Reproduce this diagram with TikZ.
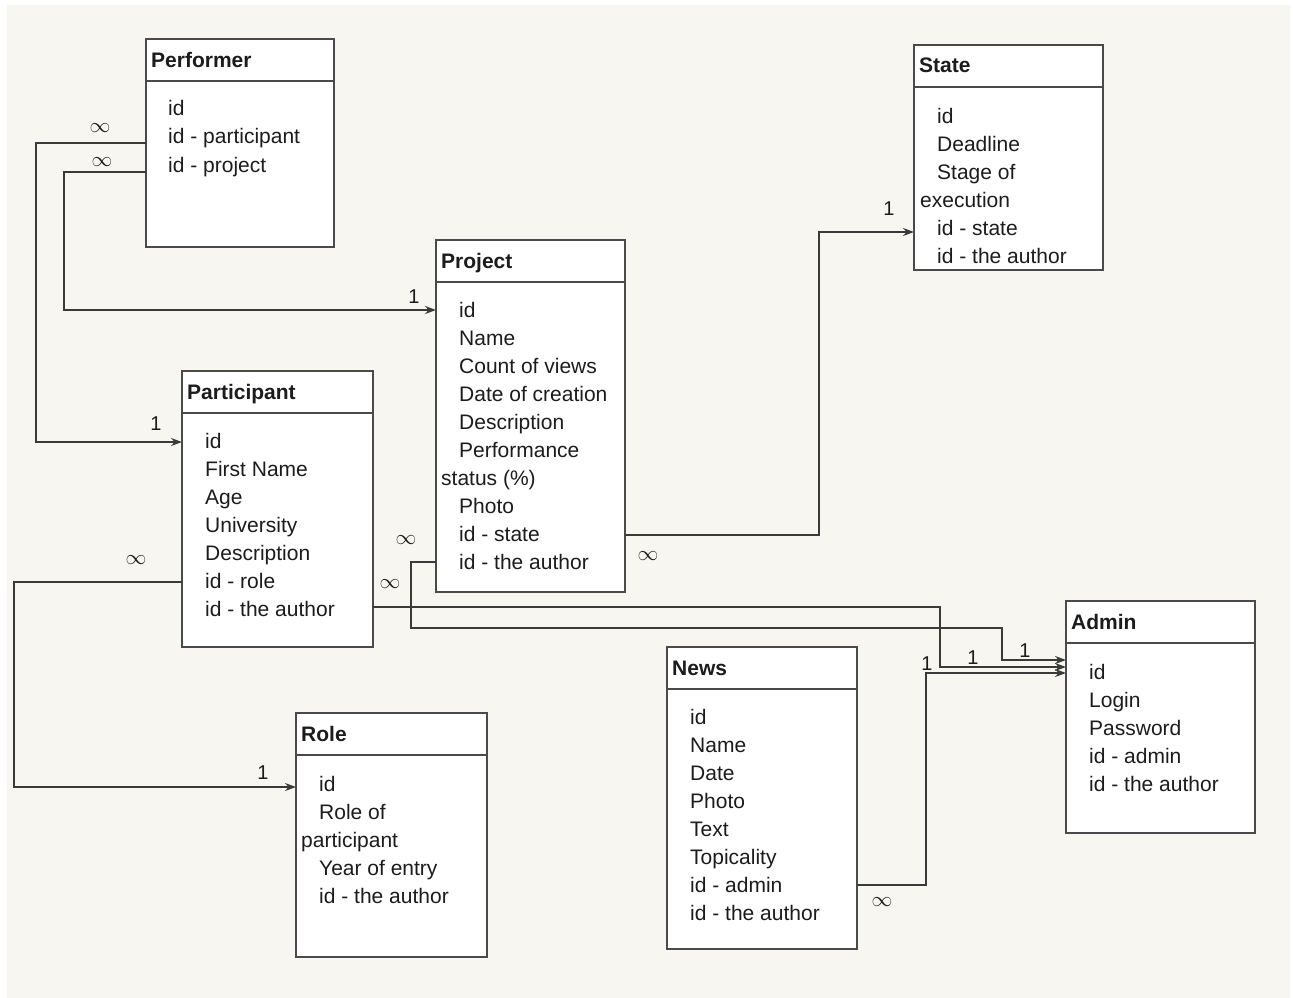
\documentclass[tikz,border=0pt]{standalone}
\usepackage{fontspec}
\setmainfont{Liberation Sans}
\usetikzlibrary{arrows.meta,calc}

\definecolor{paper}{HTML}{F8F6F0}
\definecolor{ink}{HTML}{1C1C1C}
\definecolor{frame}{HTML}{4A4A4A}
\definecolor{wire}{HTML}{3A3A3A}

\tikzset{
  tbl/.style={draw=frame, line width=1.8pt, fill=white, anchor=north west,
              inner sep=0pt, outer sep=0pt},
  ttl/.style={anchor=base west, inner sep=0pt, text=ink,
              font=\fontsize{21}{25}\selectfont\bfseries},
  fld/.style={anchor=base west, inner sep=0pt, text=ink,
              font=\fontsize{21}{25}\selectfont},
  card/.style={inner sep=0pt, text=ink, font=\fontsize{20}{24}\selectfont},
  link/.style={draw=wire, line width=1.6pt,
               -{Stealth[length=11pt,width=8pt]}},
}

% draw a table: #1 name, #2 x, #3 y, #4 width, #5 height, #6 title
\newcommand{\erbox}[6]{%
  \node[tbl, minimum width=#4pt, minimum height=#5pt] (#1) at (#2,#3) {};
  \draw[frame, line width=1.6pt] ([yshift=-42pt]#1.north west) -- ([yshift=-42pt]#1.north east);
  \node[ttl] (#1-t) at (#2+5,#3+28) {#6};
}
\newcommand{\many}{$\infty$}

\begin{document}
\begin{tikzpicture}[x=1pt,y=-1pt]
\useasboundingbox (0,0) rectangle (1293,998);
\fill[white] (0,0) rectangle (1293,998);
\fill[paper] (7,5) rectangle (1290,998);

% ---------- tables ----------
\erbox{perf}{146}{39}{188}{208}{Performer}
\node[fld] (perf-1) at (168,115) {id};
\node[fld] (perf-2) at (168,143) {id - participant};
\node[fld] (perf-3) at (168,172) {id - project};

\erbox{state}{914}{45}{189}{225}{State}
\node[fld] (state-1) at (937,123) {id};
\node[fld] (state-2) at (937,151) {Deadline};
\node[fld] (state-3) at (937,179) {Stage of};
\node[fld] (state-4) at (920,207) {execution};
\node[fld] (state-5) at (937,235) {id - state};
\node[fld] (state-6) at (937,263) {id - the author};

\erbox{proj}{436}{240}{189}{352}{Project}
\node[fld] (proj-1) at (459,317) {id};
\node[fld] (proj-2) at (459,345) {Name};
\node[fld] (proj-3) at (459,373) {Count of views};
\node[fld] (proj-4) at (459,401) {Date of creation};
\node[fld] (proj-5) at (459,429) {Description};
\node[fld] (proj-6) at (459,457) {Performance};
\node[fld] (proj-7) at (441,485) {status (\%)};
\node[fld] (proj-8) at (459,513) {Photo};
\node[fld] (proj-9) at (459,541) {id - state};
\node[fld] (proj-10) at (459,569) {id - the author};

\erbox{part}{182}{371}{191}{276}{Participant}
\node[fld] (part-1) at (205,448) {id};
\node[fld] (part-2) at (205,476) {First Name};
\node[fld] (part-3) at (205,504) {Age};
\node[fld] (part-4) at (205,532) {University};
\node[fld] (part-5) at (205,560) {Description};
\node[fld] (part-6) at (205,588) {id - role};
\node[fld] (part-7) at (205,616) {id - the author};

\erbox{role}{296}{713}{191}{244}{Role}
\node[fld] (role-1) at (319,791) {id};
\node[fld] (role-2) at (319,819) {Role of};
\node[fld] (role-3) at (301,847) {participant};
\node[fld] (role-4) at (319,875) {Year of entry};
\node[fld] (role-5) at (319,903) {id - the author};

\erbox{news}{667}{647}{190}{302}{News}
\node[fld] (news-1) at (690,724) {id};
\node[fld] (news-2) at (690,752) {Name};
\node[fld] (news-3) at (690,780) {Date};
\node[fld] (news-4) at (690,808) {Photo};
\node[fld] (news-5) at (690,836) {Text};
\node[fld] (news-6) at (690,864) {Topicality};
\node[fld] (news-7) at (690,892) {id - admin};
\node[fld] (news-8) at (690,920) {id - the author};

\erbox{admin}{1066}{601}{189}{232}{Admin}
\node[fld] (admin-1) at (1089,679) {id};
\node[fld] (admin-2) at (1089,707) {Login};
\node[fld] (admin-3) at (1089,735) {Password};
\node[fld] (admin-4) at (1089,763) {id - admin};
\node[fld] (admin-5) at (1089,791) {id - the author};

% ---------- relationships ----------
% Performer.id-participant -> Participant.id
\draw[link] (perf.west |- 0,143) -- (36,143) -- (36,442) -- (part.west |- 0,442);
\node[card] (c1a) at (100,128) {\many};
\node[card] (c1b) at (156,424) {1};

% Performer.id-project -> Project.id
\draw[link] (perf.west |- 0,172) -- (64,172) -- (64,310) -- (proj.west |- 0,310);
\node[card] (c2a) at (102,162) {\many};
\node[card] (c2b) at (414,297) {1};

% Project.id-state -> State
\draw[link] (proj.east |- 0,535) -- (819,535) -- (819,232) -- (state.west |- 0,232);
\node[card] (c3a) at (648,556) {\many};
\node[card] (c3b) at (889,209) {1};

% Participant.id-role -> Role.id
\draw[link] (part.west |- 0,582) -- (14,582) -- (14,787) -- (role.west |- 0,787);
\node[card] (c4a) at (136,560) {\many};
\node[card] (c4b) at (263,773) {1};

% Participant.id-the-author -> Admin
\draw[link] (part.east |- 0,607) -- (940,607) -- (940,667) -- (admin.west |- 0,667);
\node[card] (c5a) at (390,584) {\many};
\node[card] (c5b) at (973,658) {1};

% Project.id-the-author -> Admin
\draw[link] (proj.west |- 0,562) -- (411,562) -- (411,628) -- (1002,628) -- (1002,660) -- (admin.west |- 0,660);
\node[card] (c6a) at (406,540) {\many};
\node[card] (c6b) at (1025,651) {1};

% News.id-admin -> Admin
\draw[link] (news.east |- 0,885) -- (926,885) -- (926,673) -- (admin.west |- 0,673);
\node[card] (c7a) at (882,902) {\many};
\node[card] (c7b) at (927,664) {1};

\end{tikzpicture}
\end{document}
